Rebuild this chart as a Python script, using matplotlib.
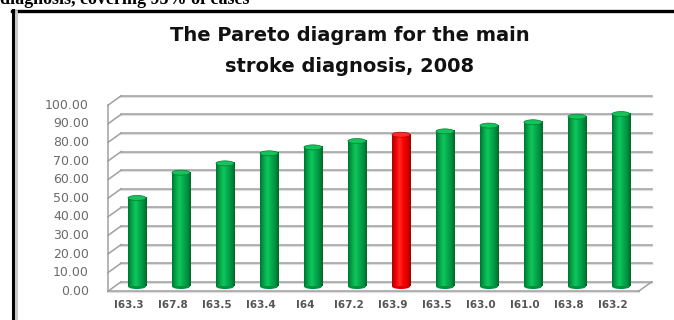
import numpy as np
import matplotlib
matplotlib.use("Agg")
import matplotlib.pyplot as plt
from matplotlib.patches import Ellipse
from matplotlib.lines import Line2D
from matplotlib.colors import LinearSegmentedColormap

# cumulative share of cases by diagnosis
codes = ["I63.3", "I67.8", "I63.5", "I63.4", "I64", "I67.2",
         "I63.9", "I63.5", "I63.0", "I61.0", "I63.8", "I63.2"]
cum_pct = [47.6, 61.2, 66.2, 71.6, 74.8, 78.2,
           81.6, 83.4, 86.5, 88.3, 91.3, 92.7]
highlight = 6
yticks = np.arange(0, 101, 10)

W, H = 674, 320
fig = plt.figure(figsize=(W / 100, H / 100), dpi=100)
fig.patch.set_facecolor("white")

# axes over the whole figure; one category = 44 px, one percent = 1.86 px
ax = fig.add_axes([0, 0, 1, 1])
x0_px, step_px = 137, 44
y0_px, unit_px = 286.5, 1.86
xlim = ((0 - x0_px) / step_px, (W - x0_px) / step_px)
ylim = ((y0_px - H) / unit_px, y0_px / unit_px)
ax.axis("off")

depth = 2.55          # half depth of the box in percent units
xl_front, xl_back = -0.66, -0.36
xr_front, xr_back = 11.40, 11.70
grid_c = "#a0a0a0"
shadow_c = "#e0e0e0"

# back wall + left side wall gridlines
for t in yticks:
    yb = t + depth
    yf = t - depth
    ax.plot([xl_back, xr_back], [yb - 0.6, yb - 0.6], color=shadow_c, lw=1.6, zorder=1)
    ax.plot([xl_back, xr_back], [yb, yb], color=grid_c, lw=1.1, zorder=2)
    ax.plot([xl_front, xl_back], [yf, yb], color=grid_c, lw=1.1, zorder=2)

# left wall edge and floor
ax.plot([xl_front, xl_front], [-depth, yticks[-1] - depth], color=grid_c, lw=1.1, zorder=2)
ax.plot([xl_front, xr_front], [-depth - 0.6, -depth - 0.6], color=shadow_c, lw=1.6, zorder=1)
ax.plot([xl_front, xr_front], [-depth, -depth], color=grid_c, lw=1.1, zorder=2)
ax.plot([xr_front, xr_back], [-depth, depth], color=grid_c, lw=1.1, zorder=2)

# cylinders
green = LinearSegmentedColormap.from_list(
    "g", ["#00732f", "#00a84a", "#14c45a", "#00b050", "#009040", "#006a2a"])
red = LinearSegmentedColormap.from_list(
    "r", ["#b00000", "#ee0000", "#ff2a2a", "#ff0000", "#dd0000", "#a00000"])
grad = np.linspace(0, 1, 64).reshape(1, -1)
bw = 0.41
cap_h = 2.7
for i, v in enumerate(cum_pct):
    cmap = red if i == highlight else green
    ax.add_patch(Ellipse((i, 0), bw, cap_h, facecolor=cmap(0.8), edgecolor="none", zorder=4))
    ax.imshow(grad, cmap=cmap, extent=(i - bw / 2, i + bw / 2, 0, v),
              aspect="auto", interpolation="bilinear", zorder=5)
    ax.add_patch(Ellipse((i, v), bw, cap_h, facecolor=cmap(0.4),
                         edgecolor=cmap(0.9), lw=0.5, zorder=6))

ax.set_xlim(*xlim)
ax.set_ylim(*ylim)

# value axis labels on the front edge
for t in yticks:
    ax.text((89 - x0_px) / step_px, t - depth, f"{t:.2f}", ha="right", va="center",
            fontsize=9, color="#6b6b6b", family="DejaVu Sans")

# category labels
for i, code in enumerate(codes):
    ax.text(i - 0.18, (y0_px - 305) / unit_px, code, ha="center", va="center",
            fontsize=7.5, color="#555555", family="DejaVu Sans", fontweight="bold")

# chart title
fig.text(350 / W, 1 - 41 / H, "The Pareto diagram for the main", ha="center",
         va="baseline", fontsize=14, fontweight="bold", color="#111111", family="DejaVu Sans")
fig.text(350 / W, 1 - 72 / H, "stroke diagnosis, 2008", ha="center",
         va="baseline", fontsize=14, fontweight="bold", color="#111111", family="DejaVu Sans")

# caption line of the surrounding page, cut at the top
fig.text(0 / W, 1 - 4 / H, "diagnosis, covering 95% of cases", ha="left", va="baseline",
         fontsize=13, fontweight="bold", color="black", family="Liberation Serif")

# frame around the chart
fig.add_artist(Line2D([12 / W, 1], [1 - 11 / H, 1 - 11 / H], color="black", lw=2.4))
fig.add_artist(Line2D([15.5 / W, 15.5 / W], [0, 1 - 11 / H], color="#c8c8c8", lw=2.0))
fig.add_artist(Line2D([13 / W, 13 / W], [0, 1 - 10 / H], color="black", lw=2.2))

fig.savefig("out.png", dpi=100, facecolor="white")
